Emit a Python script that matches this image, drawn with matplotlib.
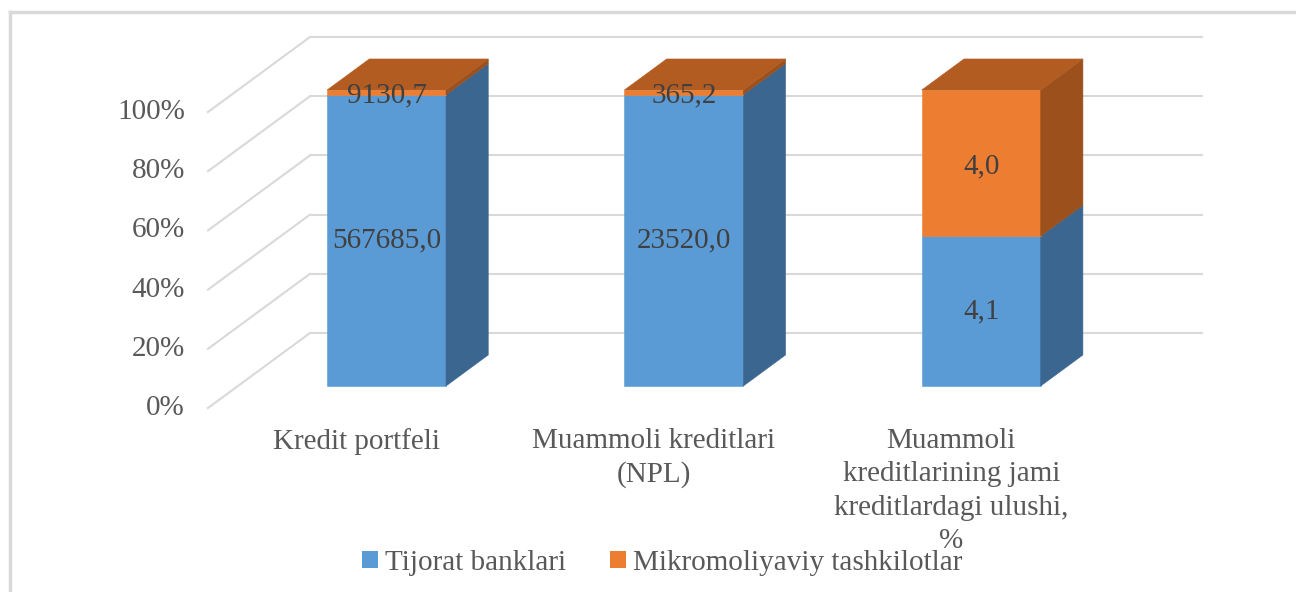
import matplotlib
matplotlib.use("Agg")
import matplotlib.pyplot as plt
from matplotlib.patches import Polygon, Patch
from matplotlib.lines import Line2D

# ---------------- data ----------------
categories = ["Kredit portfeli",
              "Muammoli kreditlari\n(NPL)",
              "Muammoli\nkreditlarining jami\nkreditlardagi ulushi,\n%"]
series_names = ["Tijorat banklari", "Mikromoliyaviy tashkilotlar"]
tijorat = [567685.0, 23520.0, 4.1]
mikro = [9130.7, 365.2, 4.0]
tijorat_labels = ["567685,0", "23520,0", "4,1"]
mikro_labels = ["9130,7", "365,2", "4,0"]
y_ticks = [0, 20, 40, 60, 80, 100]
y_tick_labels = ["0%", "20%", "40%", "60%", "80%", "100%"]

# ---------------- style ----------------
FONT = ["Liberation Serif", "DejaVu Serif"]
plt.rcParams["font.family"] = FONT
FS = 21
blue_front, blue_side, blue_top = "#5B9BD5", "#3B6690", "#4A7FB0"
orange_front, orange_side, orange_top = "#ED7D31", "#9C501C", "#B35C22"
grid_c = "#D9D9D9"

W, H, DPI = 1296, 592, 100
fig = plt.figure(figsize=(W / DPI, H / DPI), dpi=DPI)
ax = fig.add_axes([0, 0, 1, 1])
ax.set_axis_off()

# pixel geometry of the 3D projection (front plane)
x0_px, cat_px = 208.0, 297.33
y0_px_top, unit_px = 408.0, 2.96
ax.set_xlim(-x0_px / cat_px, (W - x0_px) / cat_px)
yb = H - y0_px_top
ax.set_ylim(-yb / unit_px, (H - yb) / unit_px)

DX = 102.0 / cat_px      # full depth offset in category units
DY = 75.0 / unit_px      # full depth offset in percent units
d0, bd = 0.293, 0.414    # bar front depth and bar depth
bw = 0.40                # bar width in category units
ncat = len(categories)

# ---------------- walls / gridlines ----------------
for v, lab in zip(y_ticks, y_tick_labels):
    ax.plot([0, DX], [v, v + DY], color=grid_c, lw=1.5, zorder=1)
    ax.plot([DX, ncat + DX], [v + DY, v + DY], color=grid_c, lw=1.5, zorder=1)
    ax.text(-0.077, v, lab, ha="right", va="center",
            fontsize=FS, color="#595959")

# ---------------- bars ----------------
def seg(i, bottom, h, fc, sc, tc, top):
    xc = i + 0.5 + d0 * DX
    xl, xr = xc - bw / 2, xc + bw / 2
    yoff = d0 * DY
    y0, y1 = bottom + yoff, bottom + h + yoff
    ax.bar(xc, h, bw, bottom=y0, color=fc, edgecolor=fc, lw=0.4, zorder=3)
    ax.add_patch(Polygon([(xr, y0), (xr + bd * DX, y0 + bd * DY),
                          (xr + bd * DX, y1 + bd * DY), (xr, y1)],
                         closed=True, fc=sc, ec=sc, lw=0.4, zorder=3))
    if top:
        ax.add_patch(Polygon([(xl, y1), (xr, y1), (xr + bd * DX, y1 + bd * DY),
                              (xl + bd * DX, y1 + bd * DY)],
                             closed=True, fc=tc, ec=tc, lw=0.4, zorder=3))
    return xc, (y0 + y1) / 2

for i in range(ncat):
    tot = tijorat[i] + mikro[i]
    pb = tijorat[i] / tot * 100
    po = mikro[i] / tot * 100
    xc, yc = seg(i, 0, pb, blue_front, blue_side, blue_top, False)
    ax.text(xc, yc, tijorat_labels[i], ha="center", va="center", fontsize=FS,
            color="#404040", zorder=5)
    xc, yc = seg(i, pb, po, orange_front, orange_side, orange_top, True)
    ax.text(xc, yc - 1.0, mikro_labels[i], ha="center", va="center", fontsize=FS,
            color="#404040", zorder=5)

# ---------------- category labels ----------------
for i, c in enumerate(categories):
    ax.text(i + 0.5, -6.8, c, ha="center", va="top", fontsize=FS,
            color="#595959", linespacing=1.36, zorder=4)

# ---------------- legend ----------------
handles = [Patch(fc=blue_front, ec="none"), Patch(fc=orange_front, ec="none")]
leg = fig.legend(handles, series_names, loc="center", bbox_to_anchor=(0.511, 0.049),
                 ncol=2, frameon=False, fontsize=FS, handlelength=0.55,
                 handleheight=0.55, handletextpad=0.25, columnspacing=1.5)
for t in leg.get_texts():
    t.set_color("#595959")

# ---------------- chart border ----------------
fig.add_artist(Line2D([9.5 / W, 1.0], [1 - 11.5 / H, 1 - 11.5 / H],
                      transform=fig.transFigure, color=grid_c, lw=2.5))
fig.add_artist(Line2D([9.5 / W, 9.5 / W], [0, 1 - 11.5 / H],
                      transform=fig.transFigure, color=grid_c, lw=2.5))

fig.savefig("out.png", dpi=DPI)
